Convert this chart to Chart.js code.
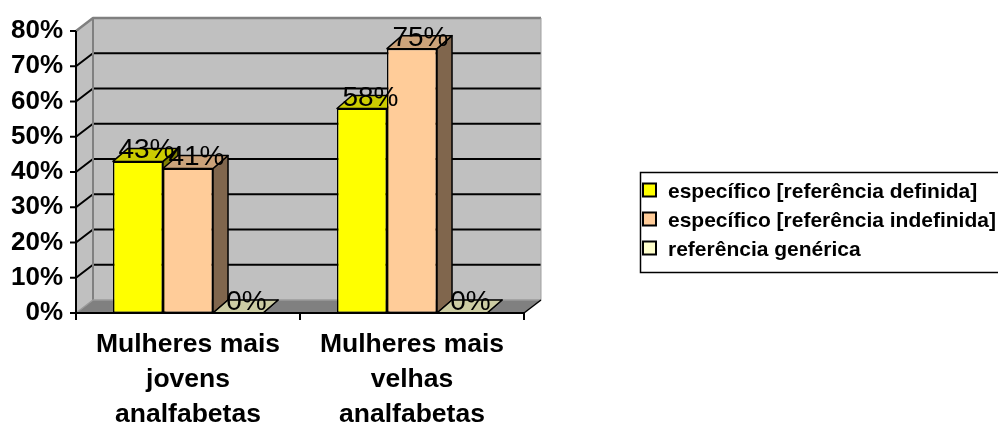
<!DOCTYPE html>
<html>
<head>
<meta charset="utf-8">
<script src="https://cdn.jsdelivr.net/npm/chart.js@4.4.1/dist/chart.umd.min.js"></script>
<style>
  html, body { margin: 0; padding: 0; background: #ffffff; }
  canvas { display: block; }
</style>
</head>
<body>
<canvas id="chart" width="998" height="426"></canvas>
<script>
// Categories (multi-line axis labels)
const categories = [
  ['Mulheres mais', 'jovens', 'analfabetas'],
  ['Mulheres mais', 'velhas', 'analfabetas']
];

// Series names
const seriesNames = [
  'específico [referência definida]',
  'específico [referência indefinida]',
  'referência genérica'
];

// Series values (percent)
const definida   = [43, 58];
const indefinida = [41, 75];
const generica   = [0, 0];

// Value axis range and step (percent)
const yMin = 0;
const yMax = 80;
const yStep = 10;

const seriesColors = ['#FFFF00', '#FFCC99', '#FFFFCC'];

const FONT = '"Liberation Sans", Arial, Helvetica, sans-serif';
const WALL = { dx: 17, dy: -13 };   // depth of walls / floor
const BAR  = { dx: 15, dy: -13 };   // depth of each column

function shade(hex, f) {
  const n = parseInt(hex.slice(1), 16);
  const r = Math.round(((n >> 16) & 255) * f);
  const g = Math.round(((n >> 8) & 255) * f);
  const b = Math.round((n & 255) * f);
  return `rgb(${r},${g},${b})`;
}

function poly(ctx, pts, fill, stroke, lw) {
  ctx.beginPath();
  ctx.moveTo(pts[0][0], pts[0][1]);
  for (let i = 1; i < pts.length; i++) ctx.lineTo(pts[i][0], pts[i][1]);
  ctx.closePath();
  if (fill) { ctx.fillStyle = fill; ctx.fill(); }
  if (stroke) { ctx.strokeStyle = stroke; ctx.lineWidth = lw || 1; ctx.stroke(); }
}

function line(ctx, pts, color, lw) {
  ctx.beginPath();
  ctx.moveTo(pts[0][0], pts[0][1]);
  for (let i = 1; i < pts.length; i++) ctx.lineTo(pts[i][0], pts[i][1]);
  ctx.strokeStyle = color;
  ctx.lineWidth = lw;
  ctx.stroke();
}

// Draws the 3-D walls, floor, gridlines and the top/side faces of the columns
const columns3d = {
  id: 'columns3d',
  beforeDatasetsDraw(chart) {
    const { ctx, chartArea: a, scales: { x, y } } = chart;
    const L = a.left, R = a.right;
    const T = y.getPixelForValue(yMax), B = y.getPixelForValue(yMin);
    const dx = WALL.dx, dy = WALL.dy;
    ctx.save();
    ctx.lineJoin = 'round';

    // back wall
    poly(ctx, [[L + dx, T + dy], [R + dx, T + dy], [R + dx, B + dy], [L + dx, B + dy]], '#C0C0C0');
    // side wall
    poly(ctx, [[L, T], [L + dx, T + dy], [L + dx, B + dy], [L, B]], '#C0C0C0');
    // floor
    poly(ctx, [[L, B], [R, B], [R + dx, B + dy], [L + dx, B + dy]], '#808080');

    // gridlines across side wall and back wall
    for (let v = yMin + yStep; v < yMax; v += yStep) {
      const yy = y.getPixelForValue(v);
      line(ctx, [[L, yy], [L + dx, yy + dy], [R + dx, yy + dy]], '#000000', 2);
    }

    // wall edges
    line(ctx, [[L, T], [L + dx, T + dy], [R + dx, T + dy]], '#808080', 2.5);
    line(ctx, [[R + dx, T + dy], [R + dx, B + dy]], '#A0A0A0', 1);
    line(ctx, [[L + dx, T + dy], [L + dx, B + dy]], '#808080', 2);
    line(ctx, [[L, B], [L + dx, B + dy], [R + dx, B + dy]], '#9A9A9A', 1.5);
    line(ctx, [[R, B], [R + dx, B + dy]], '#000000', 1.5);

    // column side and top faces, left to right
    const nCat = chart.data.labels.length;
    for (let i = 0; i < nCat; i++) {
      chart.data.datasets.forEach((ds, j) => {
        const el = chart.getDatasetMeta(j).data[i];
        const p = el.getProps(['x', 'y', 'base', 'width'], true);
        const xl = p.x - p.width / 2, xr = p.x + p.width / 2;
        const col = ds.backgroundColor;
        poly(ctx, [[xr, p.y], [xr + BAR.dx, p.y + BAR.dy], [xr + BAR.dx, p.base + BAR.dy], [xr, p.base]],
             shade(col, 0.5), '#000000', 1.5);
        poly(ctx, [[xl, p.y], [xl + BAR.dx, p.y + BAR.dy], [xr + BAR.dx, p.y + BAR.dy], [xr, p.y]],
             shade(col, 0.8), '#000000', 1.5);
      });
    }
    ctx.restore();
  },
  afterDatasetsDraw(chart) {
    const { ctx, chartArea: a, scales: { x, y } } = chart;
    const L = a.left, R = a.right;
    const T = y.getPixelForValue(yMax), B = y.getPixelForValue(yMin);
    ctx.save();

    // axis lines and tick marks
    line(ctx, [[L, T], [L, B + 1]], '#000000', 2);
    line(ctx, [[L - 1, B], [R, B]], '#000000', 2);
    for (let v = yMin; v <= yMax; v += yStep) {
      const yy = y.getPixelForValue(v);
      line(ctx, [[L - 6, yy], [L, yy]], '#000000', 2);
    }
    const nCat = chart.data.labels.length;
    const catW = (R - L) / nCat;
    for (let i = 0; i <= nCat; i++) {
      const xx = L + i * catW;
      line(ctx, [[xx, B], [xx, B + 7]], '#000000', 2);
    }

    // value labels on top of each column
    ctx.font = `normal 28px ${FONT}`;
    ctx.fillStyle = '#000000';
    ctx.textAlign = 'center';
    ctx.textBaseline = 'alphabetic';
    chart.data.datasets.forEach((ds, j) => {
      chart.getDatasetMeta(j).data.forEach((el, i) => {
        const p = el.getProps(['x', 'y'], true);
        ctx.fillText(ds.data[i] + '%', p.x + BAR.dx / 2 + 1, p.y - 3);
      });
    });
    ctx.restore();
  },
  afterDraw(chart) {
    const { ctx } = chart;
    ctx.save();
    // legend box
    ctx.strokeStyle = '#000000';
    ctx.lineWidth = 1.5;
    ctx.strokeRect(640.5, 172.5, 420, 100);
    ctx.font = `bold 21px ${FONT}`;
    ctx.textAlign = 'left';
    ctx.textBaseline = 'alphabetic';
    chart.data.datasets.forEach((ds, j) => {
      const cy = 190 + j * 29;
      ctx.fillStyle = ds.backgroundColor;
      ctx.fillRect(643, cy - 6.5, 13, 13);
      ctx.strokeStyle = '#000000';
      ctx.lineWidth = 2;
      ctx.strokeRect(643, cy - 6.5, 13, 13);
      ctx.fillStyle = '#000000';
      ctx.fillText(ds.label, 668, cy + 7.5);
    });
    ctx.restore();
  }
};

const series = [definida, indefinida, generica];

new Chart(document.getElementById('chart'), {
  type: 'bar',
  data: {
    labels: categories,
    datasets: series.map((vals, j) => ({
      label: seriesNames[j],
      data: vals,
      backgroundColor: seriesColors[j],
      borderColor: '#000000',
      borderWidth: 1.5,
      borderSkipped: false,
      categoryPercentage: 0.67,
      barPercentage: 1.0
    }))
  },
  options: {
    responsive: false,
    devicePixelRatio: 1,
    animation: false,
    layout: { padding: { top: 31, right: 474, left: 0, bottom: 0 } },
    plugins: {
      legend: { display: false },
      tooltip: { enabled: false }
    },
    scales: {
      x: {
        grid: { display: false, drawTicks: false },
        border: { display: false },
        ticks: {
          color: '#000000',
          padding: 14,
          maxRotation: 0,
          autoSkip: false,
          font: { family: FONT, size: 26.5, weight: 'bold', lineHeight: 1.33 }
        },
        afterFit(scale) { scale.height = 113; }
      },
      y: {
        min: yMin,
        max: yMax,
        grid: { display: false, drawTicks: false },
        border: { display: false },
        ticks: {
          stepSize: yStep,
          color: '#000000',
          padding: 13,
          font: { family: FONT, size: 26, weight: 'bold' },
          callback: (v) => v + '%'
        },
        afterFit(scale) { scale.width = 76; }
      }
    }
  },
  plugins: [columns3d]
});
</script>
</body>
</html>
